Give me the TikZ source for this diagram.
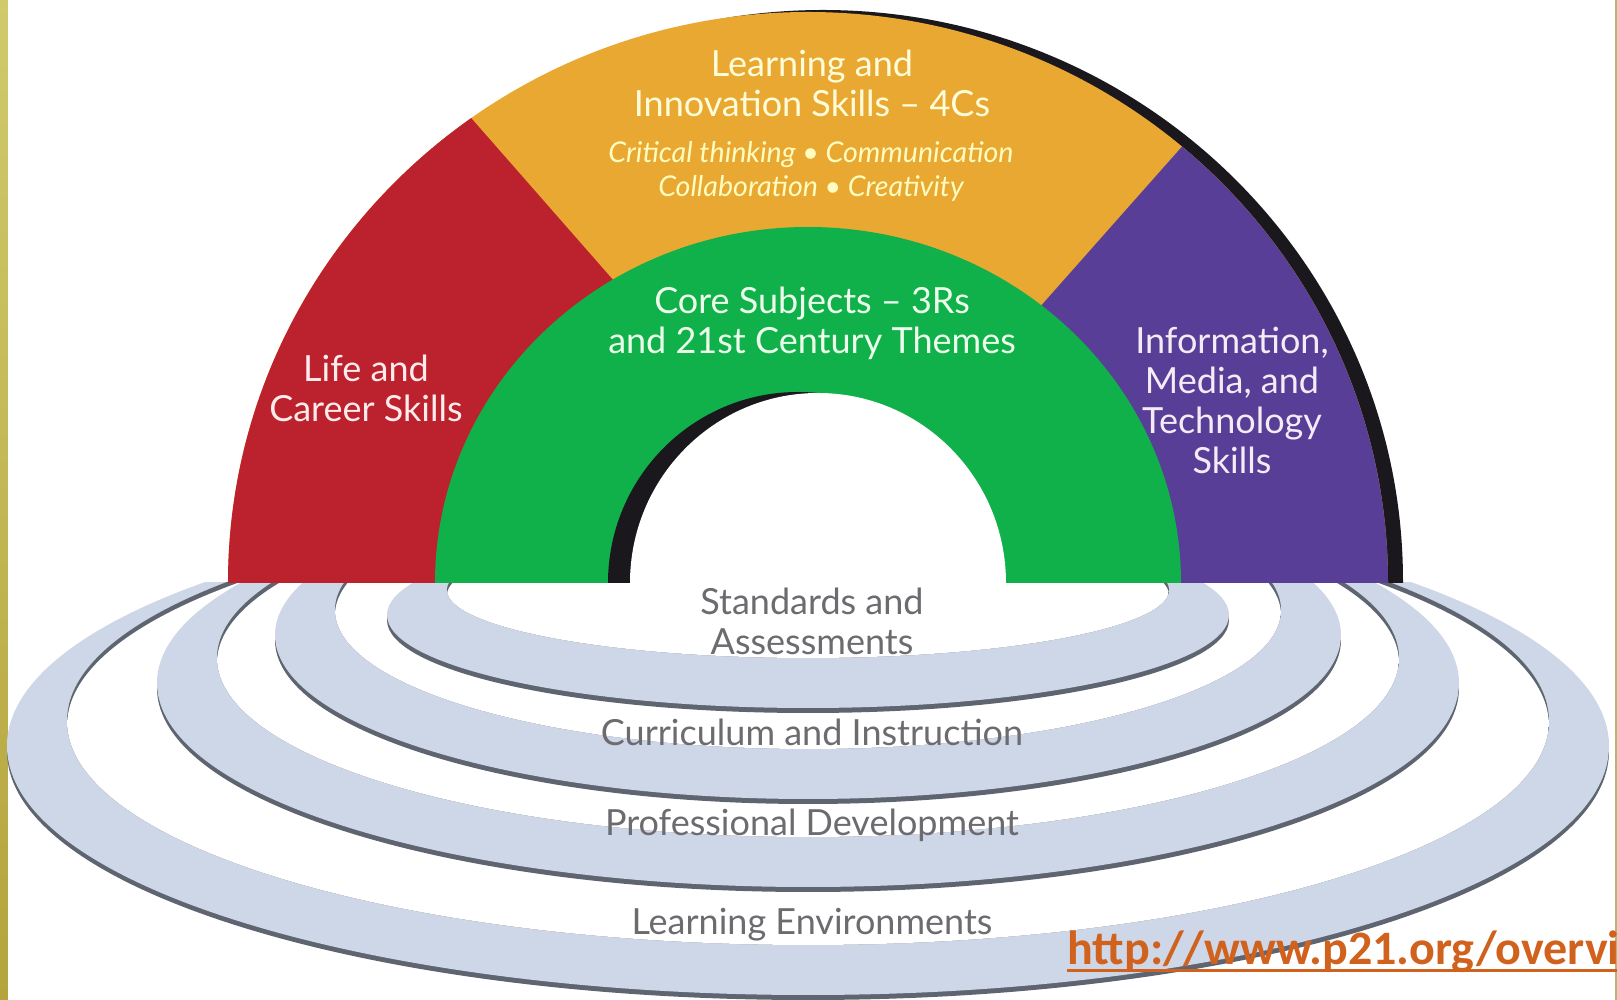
\documentclass[tikz,border=0pt]{standalone}
\usepackage{fontspec}
\setmainfont{Lato}
\newfontfamily\linkfont{Carlito}

\definecolor{lcred}{RGB}{188,34,46}
\definecolor{lcyellow}{RGB}{233,168,50}
\definecolor{lcgreen}{RGB}{16,176,74}
\definecolor{lcpurple}{RGB}{89,62,152}
\definecolor{lcshadow}{RGB}{26,24,28}
\definecolor{ringfill}{RGB}{206,215,231}
\definecolor{ringline}{RGB}{95,101,112}
\definecolor{ringtext}{RGB}{108,108,112}
\definecolor{linkorange}{RGB}{208,98,30}
\definecolor{barlight}{RGB}{208,202,108}
\definecolor{bardark}{RGB}{180,164,60}

\tikzset{
  skill/.style={align=center, inner sep=0pt, font=\fontsize{18}{20}\selectfont},
  skillsub/.style={align=center, inner sep=0pt, font=\itshape\fontsize{14.3}{17}\selectfont},
  ringlabel/.style={align=center, inner sep=0pt, text=ringtext, font=\fontsize{18}{20}\selectfont},
  weblink/.style={inner sep=0pt, text=linkorange, font=\linkfont\bfseries\fontsize{24}{28}\selectfont}
}

\begin{document}
\begin{tikzpicture}[x=0.5pt,y=0.5pt]
	\useasboundingbox (-808,-417) rectangle (809,583);
	\shade[top color=barlight, bottom color=bardark] (-808,-417) rectangle (-800,583);
	\draw[barlight!70!gray, line width=1pt] (807.5,-417) -- (807.5,583);

	\begin{scope}
		\clip (-808,-417) rectangle (809,0);
		\foreach \cy/\ci/\a/\b/\ai/\bi in {-163/-138/801/249/741/224, -100/-75/651/204/591/179, -52/-27/533/164/473/139, -32/-7/421/93/361/68} {
			\fill[ringline] (0,\cy-5) ellipse [x radius=\a, y radius=\b];
			\fill[ringfill] (0,\cy) ellipse [x radius=\a, y radius=\b];
			\fill[ringline] (0,\ci) ellipse [x radius=\ai, y radius=\bi];
			\begin{scope}
				\clip (0,\ci) ellipse [x radius=\ai, y radius=\bi];
				\fill[white] (0,\ci-5) ellipse [x radius=\ai, y radius=\bi];
			\end{scope}
		}
	\end{scope}

	\begin{scope}
		\clip (-808,0) rectangle (809,583);
		\fill[lcshadow] (15,2) ellipse [x radius=580, y radius=571];
		\begin{scope}
			\clip (0,0) ellipse [x radius=580, y radius=571];
			\fill[lcyellow] (-600,0) rectangle (600,600);
			\fill[lcred] (0,0) -- (-66,156) -- (-471,618) -- (-700,618) -- (-700,0) -- cycle;
			\fill[lcpurple] (0,0) -- (107,135) -- (503,582) -- (700,582) -- (700,0) -- cycle;
		\end{scope}
		\fill[lcgreen] (0,0) ellipse [x radius=373, y radius=356];
		\fill[lcshadow] (-10,0) ellipse [x radius=190, y radius=191];
		\fill[white] (10,0) ellipse [x radius=188, y radius=190];
	\end{scope}

	\node[skill, text=yellow!15!white] (learn) at (4,500) {Learning and\\Innovation Skills -- 4Cs};
	\node[skillsub, text=yellow!25!white] (fourcs) at (3,412) {Critical thinking \textbullet{} Communication\\Collaboration \textbullet{} Creativity};
	\node[skill, text=green!8!white] (core) at (4,260) {Core Subjects -- 3Rs\\and 21st Century Themes};
	\node[skill, text=red!8!white] (life) at (-442,195) {Life and\\Career Skills};
	\node[skill, text=violet!8!white] (info) at (424,183) {Information,\\Media, and\\Technology\\Skills};

	\node[ringlabel] (standards) at (4,-38) {Standards and\\Assessments};
	\node[ringlabel] (curriculum) at (4,-149) {Curriculum and Instruction};
	\node[ringlabel] (profdev) at (4,-242) {Professional Development};
	\node[ringlabel] (environ) at (4,-342) {Learning Environments};

	\node[weblink, anchor=base west] (link) at (259,-381) {http://www.p21.org/overvi};
	\draw[linkorange, line width=1.5pt] ([yshift=-3pt]link.base west) -- ([yshift=-3pt]link.base east);
\end{tikzpicture}
\end{document}
